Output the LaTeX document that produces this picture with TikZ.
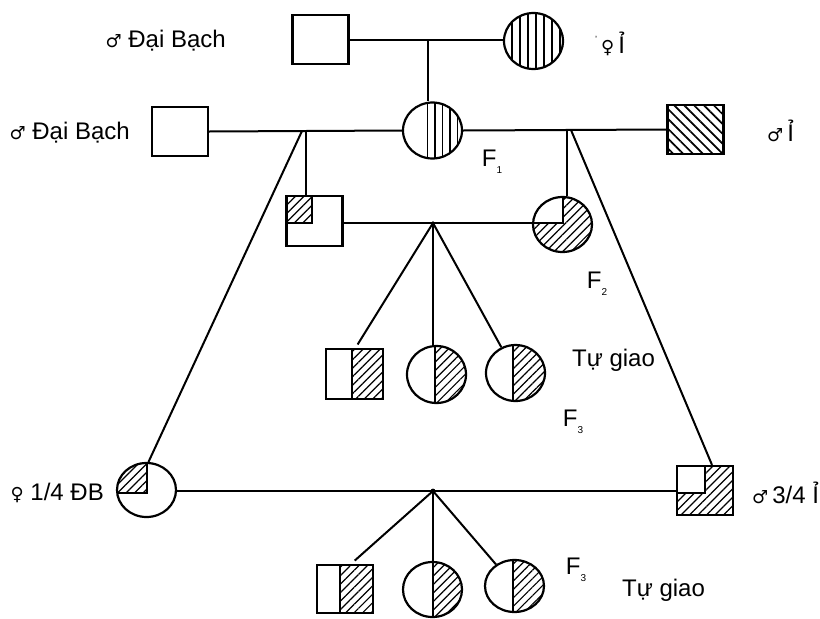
\documentclass[tikz,border=0pt]{standalone}
\usepackage{fontspec}
\setmainfont{Liberation Sans}
\newfontfamily\symfont{DejaVu Sans}
\usetikzlibrary{shapes.geometric,patterns.meta,calc}
\newcommand\symM{{\symfont\fontsize{18}{18}\selectfont ♂}}
\newcommand\symF{{\symfont\fontsize{18}{18}\selectfont ♀}}
\newcommand\Fsub[1]{F\raisebox{-0.3em}{\fontsize{10}{10}\selectfont #1}}
\begin{document}
\begin{tikzpicture}[x=1pt,y=-1pt,
  sq/.style={draw,rectangle,line width=2.2pt,inner sep=0pt,minimum width=56pt,minimum height=49pt},
  ci/.style={draw,ellipse,line width=2.2pt,inner sep=0pt,minimum width=59pt,minimum height=56pt},
  con/.style={line width=2pt},
  inl/.style={line width=1.8pt},
  hpat/.style={pattern={Lines[angle=45,distance=6pt,line width=1.2pt]}},
  lab/.style={inner sep=0pt,font=\fontsize{24}{28}\selectfont},
  vfull/.style={path picture={\fill[pattern={Lines[angle=90,distance=8pt,line width=1.6pt]}] (path picture bounding box.south west) rectangle (path picture bounding box.north east);}},
  vright/.style={path picture={\fill[pattern={Lines[angle=90,distance=7.5pt,line width=1.6pt]}] ([xshift=#1]path picture bounding box.south) rectangle (path picture bounding box.north east);}},
  dfull/.style={path picture={\fill[pattern={Lines[angle=-45,distance=7pt,line width=1.7pt]}] (path picture bounding box.south west) rectangle (path picture bounding box.north east);}},
  hright/.style={path picture={
    \coordinate (q) at ([xshift=#1]path picture bounding box.center);
    \fill[hpat] (path picture bounding box.north -| q) rectangle (path picture bounding box.south east);
    \draw[inl] (path picture bounding box.north -| q) -- (path picture bounding box.south -| q);}},
  qTL/.style 2 args={path picture={
    \coordinate (q) at ([xshift=#1,yshift=#2]path picture bounding box.center);
    \fill[hpat] (path picture bounding box.north west) rectangle (q);
    \draw[inl] (path picture bounding box.north -| q) -- (q) -- (path picture bounding box.west |- q);}},
  qNTL/.style 2 args={path picture={
    \coordinate (q) at ([xshift=#1,yshift=#2]path picture bounding box.center);
    \fill[hpat] (path picture bounding box.south west) rectangle (path picture bounding box.north east);
    \fill[white] (path picture bounding box.north west) rectangle (q);
    \draw[inl] (path picture bounding box.north -| q) -- (q) -- (path picture bounding box.west |- q);}}
]
\useasboundingbox (0,0) rectangle (820,619);
\fill[white] (0,0) rectangle (820,619);

% P generation
\node[sq] (P1) at (320.5,39.5) {};
\node[ci,vfull] (P2) at (533.5,41) {};
% F1 row
\node[sq] (M1) at (180,131.5) {};
\node[ci,vright=-8pt] (F1) at (432.5,130.5) {};
\node[sq,dfull] (M2) at (695.5,129.5) {};
% F2
\node[sq,minimum height=50pt,qTL={-2.5pt}{-2pt}] (F2a) at (314.5,221) {};
\node[ci,minimum height=55pt,qNTL={0.5pt}{1.5pt}] (F2b) at (562.5,224.5) {};
% F3 (top)
\node[sq,minimum width=57pt,minimum height=50pt,hright=-2.5pt] (C1) at (354.5,374) {};
\node[ci,minimum height=57pt,hright=-1.5pt] (C2) at (436.5,374.5) {};
\node[ci,hright=-2.5pt] (C3) at (515.5,373) {};
% backcross parents
\node[ci,minimum height=54pt,qTL={0.5pt}{-3pt}] (B1) at (146.5,490) {};
\node[sq,qNTL={0pt}{-2.5pt}] (B2) at (705,490.5) {};
% F3 (bottom)
\node[sq,minimum height=48pt,hright=-5pt] (D1) at (345,589) {};
\node[ci,minimum height=55pt,hright=0.5pt] (D2) at (432.5,589.5) {};
\node[ci,minimum height=52pt,hright=-1.5pt] (D3) at (514.5,586) {};

% junction points
\coordinate (J0) at (428,40);
\coordinate (JL) at (306,131);
\coordinate (JLd) at (302,131);
\coordinate (JR) at (567,130);
\coordinate (JRd) at (571,130);
\coordinate (K2) at (433,223);
\coordinate (K3) at (433,491);

% connectors
\draw[con] (P1.east |- J0) -- (P2.west |- J0);
\draw[con] (J0) -- (J0 |- F1.north);
\draw[con] (M1.east) -- (F1.west);
\draw[con] (F1.east) -- (M2.west);
\draw[con] (JL) -- (JL |- F2a.north);
\draw[con] (JLd) -- ($(B1.north)+(2,0)$);
\draw[con] (JR) -- (JR |- F2b.north);
\draw[con] (JRd) -- ($(B2.north)+(7,0)$);
\draw[con] (F2a.east |- K2) -- (F2b.west |- K2);
\draw[con,shorten >=4pt] (K2) -- ($(C1.north)+(1,0)$);
\draw[con] (K2) -- (K2 |- C2.north);
\draw[con] (K2) -- (C3);
\draw[con] (B1.east |- K3) -- (B2.west |- K3);
\draw[con,shorten >=5pt] (K3) -- ($(D1.north)+(6,0)$);
\draw[con] (K3) -- (K3 |- D2.north);
\draw[con] (K3) -- (D3);
\fill (K3) circle (2.4pt);
\fill (K2) circle (1.9pt);

% labels
\node[lab,anchor=east] (L1) at (226,41) {\symM\ Đại Bạch};
\node[lab,anchor=west] (L2) at (595,44) {\raisebox{0.45em}{\fontsize{9}{9}\selectfont '}\,\symF\,Ỉ};
\node[lab,anchor=east] (L4) at (130,133) {\symM\ Đại Bạch};
\node[lab,anchor=west] (L3) at (767,131) {\symM\,Ỉ};
\node[lab] (T1) at (492,162) {\Fsub{1}};
\node[lab] (T2) at (597,284) {\Fsub{2}};
\node[lab,anchor=west] (T3) at (572,360) {Tự giao};
\node[lab] (T4) at (573,422) {\Fsub{3}};
\node[lab,anchor=east] (L5) at (104,493) {\symF\ 1/4 ĐB};
\node[lab,anchor=west] (L6) at (752,493) {\symM\,3/4 Ỉ};
\node[lab] (T5) at (576,570) {\Fsub{3}};
\node[lab,anchor=west] (T6) at (622,590) {Tự giao};
\end{tikzpicture}
\end{document}
